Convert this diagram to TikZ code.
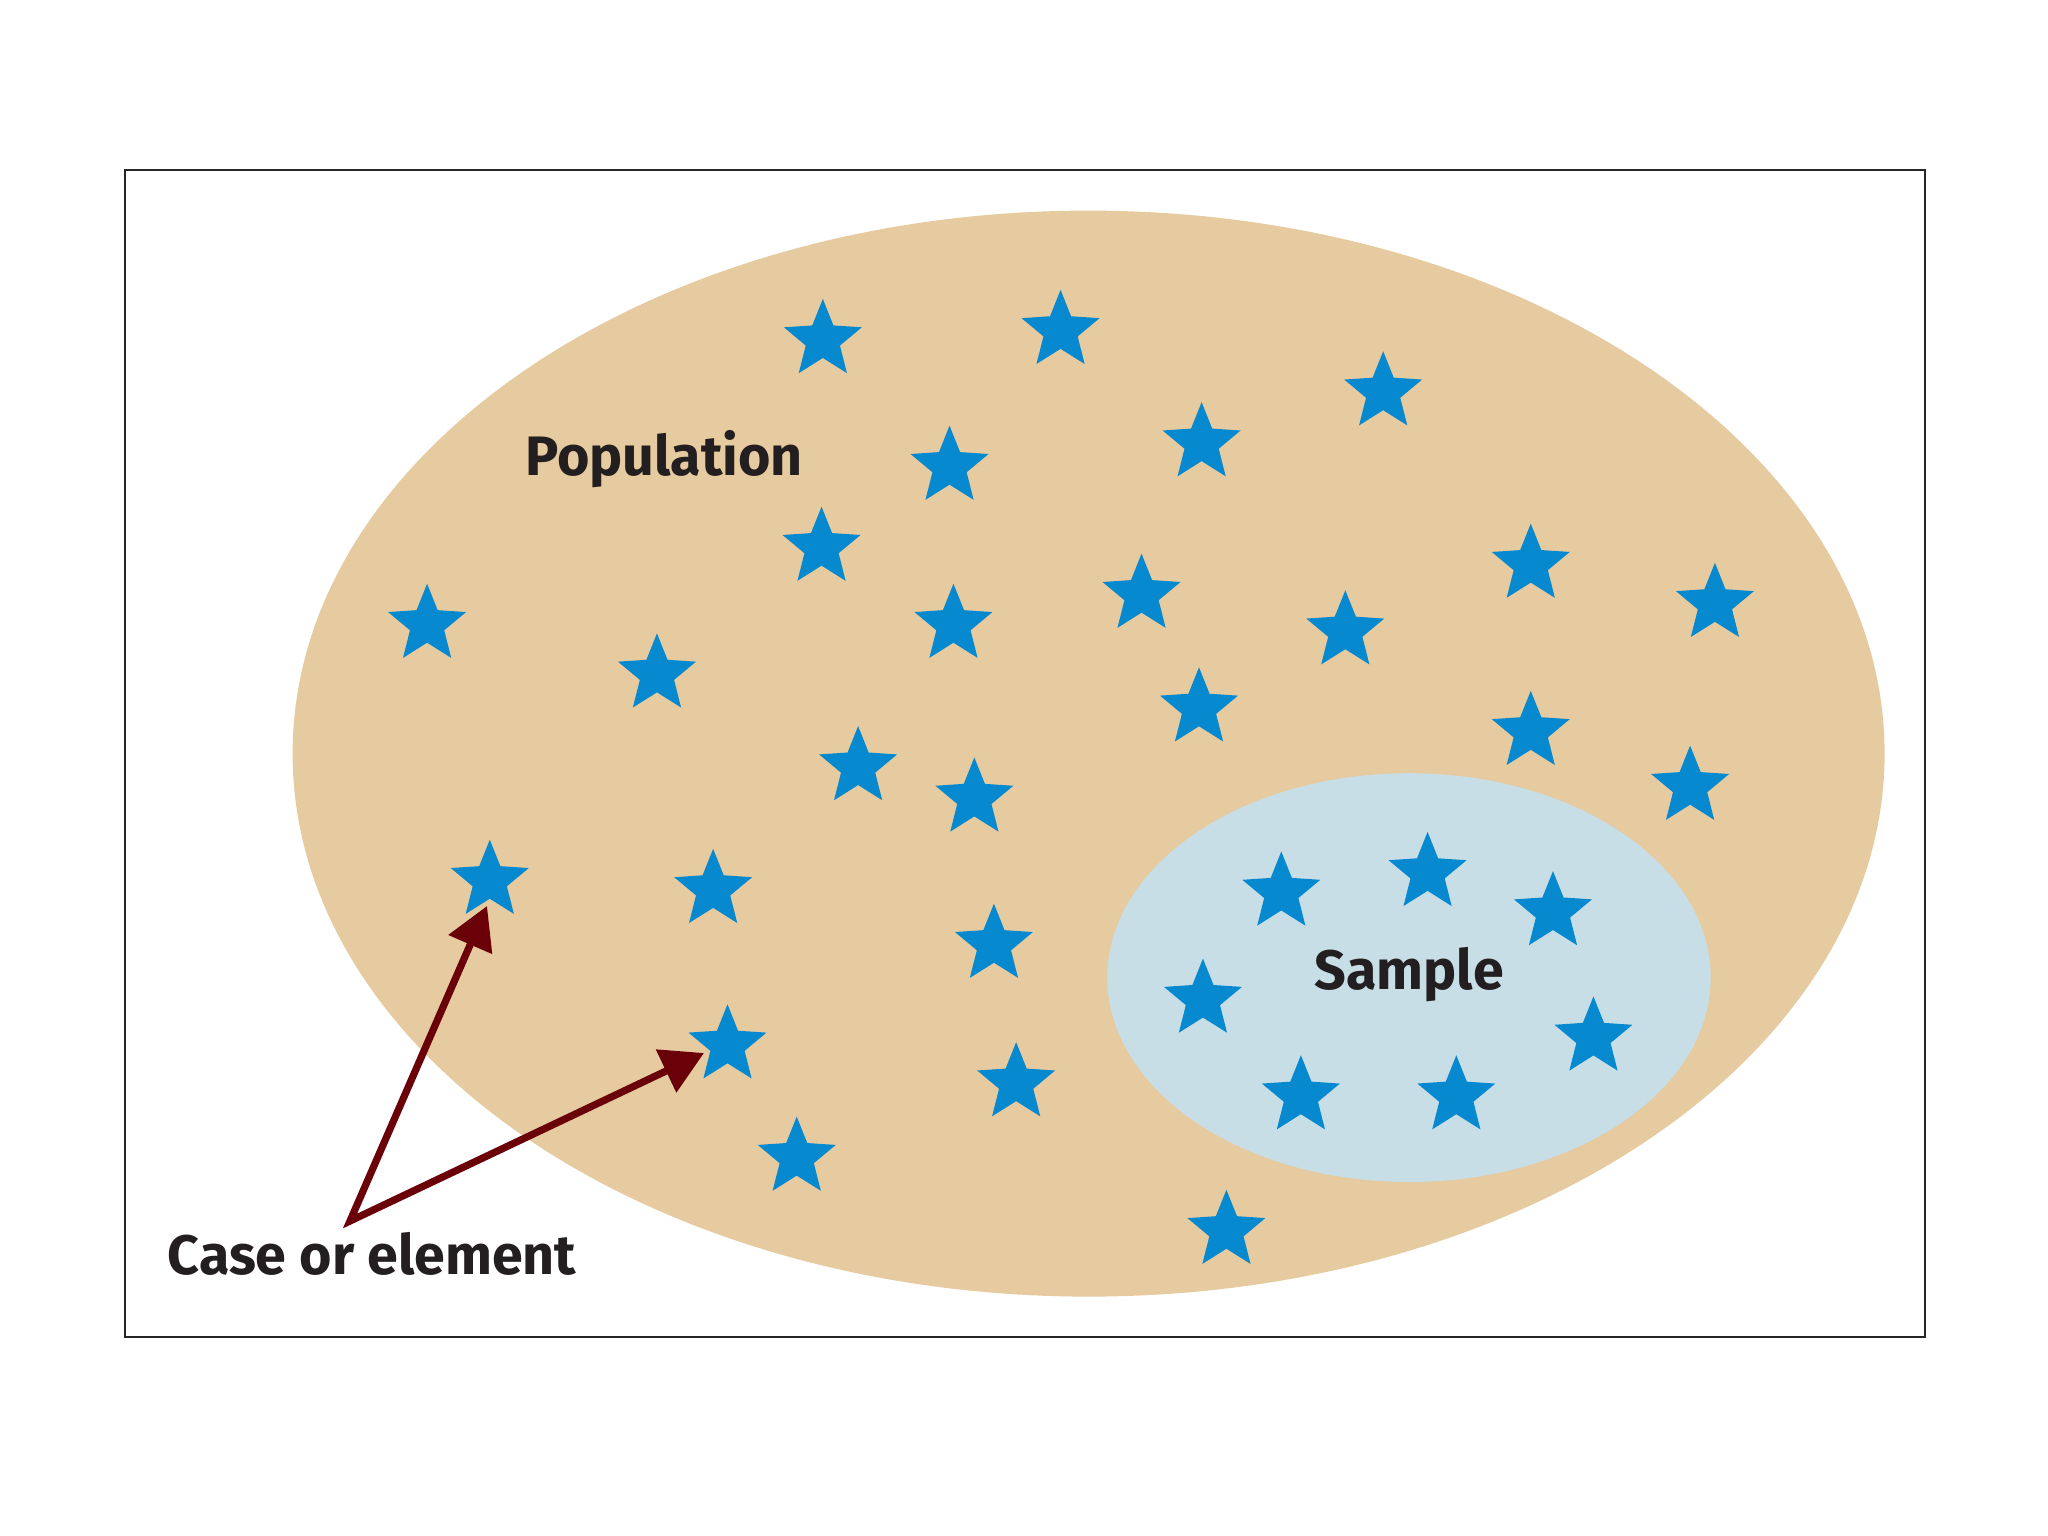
\documentclass[tikz,border=0pt]{standalone}
\usepackage{fontspec}
\setmainfont{Fira Sans}
\usetikzlibrary{arrows.meta}
\definecolor{popfill}{HTML}{E6CAA0}
\definecolor{samfill}{HTML}{C8DEE6}
\definecolor{starblue}{HTML}{0789CF}
\definecolor{arrowred}{HTML}{6A0008}
\definecolor{txt}{HTML}{231F20}
\tikzset{
  px/.style={x=0.01cm,y=-0.01cm},
  starfill/.style={fill=starblue,draw=none},
  lbl/.style={text=txt,inner sep=0pt,anchor=center,font=\bfseries\fontsize{15.8}{19}\selectfont},
  pointer/.style={draw=arrowred,line width=0.072cm,line join=miter,{Triangle[length=0.42cm,width=0.46cm]}-{Triangle[length=0.42cm,width=0.46cm]}}
}
\begin{document}
\begin{tikzpicture}[px]
\useasboundingbox (0,0) rectangle (2048,1536);
\draw[line width=0.6pt,draw=black!85] (125,170) rectangle (1925,1337);
\fill[popfill] (1088.6,753.6) ellipse [x radius=796, y radius=543];
\fill[samfill] (1409,977.6) ellipse [x radius=301.7, y radius=204.4];
\foreach \i/\x/\y in {1/630/258,2/812/251,3/1059/298,4/920/337,5/727/355,6/629/417,7/327/476,8/503/514,9/730/476,10/874/453,11/1030/481,12/1172/430,13/1313/460,14/918/540,15/1172/558,16/1294/600,17/657/585,18/746/609,19/375/672,20/546/679,21/761/721,22/557/798,23/778/827,24/610/884,25/939/940,26/981/681,27/1093/666,28/1189/696,29/921/763,30/1220/792,31/996/837,32/1115/837}{
  \coordinate (s\i) at ({\x*1.3061},{\y*1.3061+3});
  \fill[starfill] (s\i) +(-90:41) -- +(-54:18) -- +(-18:41) -- +(18:18) -- +(54:41) -- +(90:18) -- +(126:41) -- +(162:18) -- +(198:41) -- +(234:18) -- cycle;
}
\node[lbl] (pop) at (664,459) {Population};
\node[lbl] (sam) at (1409,975) {Sample};
\node[lbl] (case) at (372,1254) {Case or element};
\coordinate (apex) at (350,1221);
\coordinate (tip1) at (487,906);
\coordinate (tip2) at (704,1053);
\draw[pointer] (tip1) -- (apex) -- (tip2);
\end{tikzpicture}
\end{document}
